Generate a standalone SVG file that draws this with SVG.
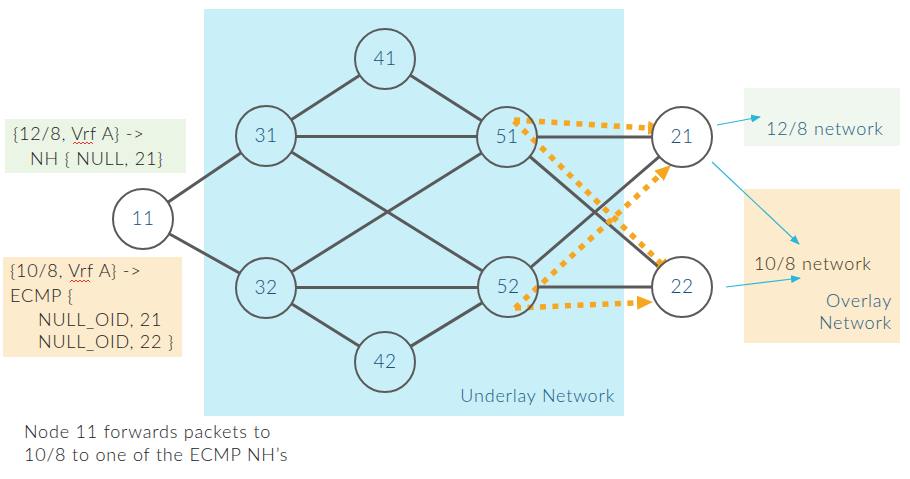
<svg xmlns="http://www.w3.org/2000/svg" width="910" height="479" viewBox="0 0 910 479">
<defs>
<style>
.t{font-family:Lato,"Liberation Sans",sans-serif;font-size:18px;font-weight:300;fill:#222;letter-spacing:0.8px}
.lbl{font-family:Lato,"Liberation Sans",sans-serif;font-size:19px;font-weight:300;fill:#174f78;text-anchor:middle;letter-spacing:0.5px}
.teal{fill:#1b5a80}
.node circle{stroke:#5a5a5a;stroke-width:2}
.edge line{stroke:#5a5a5a;stroke-width:3}
.flow line{stroke:#f7a71f;stroke-width:5.5;stroke-dasharray:6 6.5;fill:none}
.cy line{stroke:#2db6d9;stroke-width:1.2}
</style>
<marker id="oa" viewBox="0 0 16 14" refX="1" refY="7" markerWidth="16" markerHeight="14" markerUnits="userSpaceOnUse" orient="auto">
<path d="M0,0 L16,7 L0,14 z" fill="#f7a71f"/>
</marker>
<marker id="ca" viewBox="0 0 10 8" refX="9" refY="4" markerWidth="10" markerHeight="8" markerUnits="userSpaceOnUse" orient="auto">
<path d="M0,0 L10,4 L0,8 z" fill="#2db6d9"/>
</marker>
</defs>
<rect x="0" y="0" width="910" height="479" fill="#fff"/>
<rect id="underlay" x="204" y="9" width="420" height="407" fill="#c9eff9"/>
<text class="t teal" x="615" y="402" text-anchor="end">Underlay Network</text>
<g id="box-12-8-route">
<rect x="5" y="119" width="181" height="54" fill="#ebf5e5"/>
<text class="t" x="13" y="140">{12/8, Vrf A} -&gt;</text>
<text class="t" x="30" y="165">NH { NULL, 21}</text>
<path d="M73,144 l2,-2 l2,2 l2,-2 l2,2 l2,-2 l2,2 l2,-2 l2,2 l2,-2 l2,2" stroke="#e02020" stroke-width="0.9" fill="none"/>
</g>
<g id="box-10-8-route">
<rect x="3" y="257" width="179" height="100" fill="#fdebcd"/>
<text class="t" x="10" y="277">{10/8, Vrf A} -&gt;</text>
<text class="t" x="10" y="302">ECMP {</text>
<text class="t" x="38" y="326">NULL_OID, 21</text>
<text class="t" x="38" y="348">NULL_OID, 22 }</text>
<path d="M70,282 l2,-2 l2,2 l2,-2 l2,2 l2,-2 l2,2 l2,-2 l2,2 l2,-2 l2,2" stroke="#e02020" stroke-width="0.9" fill="none"/>
</g>
<g id="net-12-8">
<rect x="744" y="88" width="156" height="58" fill="#f0f7ee"/>
<text class="t teal" x="766" y="135">12/8 network</text>
</g>
<g id="overlay">
<rect x="744" y="189" width="156" height="154" fill="#fdebcd"/>
<text class="t" x="754" y="270" style="fill:#3b3222">10/8 network</text>
<text class="t teal" x="892" y="307" text-anchor="end">Overlay</text>
<text class="t teal" x="892" y="329" text-anchor="end">Network</text>
</g>
<text class="t" x="24" y="438">Node 11 forwards packets to</text>
<text class="t" x="24" y="461">10/8 to one of the ECMP NH’s</text>
<g id="connectors">
<g class="edge">
<line x1="167.9" y1="202.2" x2="241.1" y2="152.8"/>
<line x1="169.2" y1="233.7" x2="239.8" y2="273.3"/>
<line x1="291.2" y1="119.7" x2="359.8" y2="75.3"/>
<line x1="410.3" y1="75.2" x2="481.7" y2="120.8"/>
<line x1="296" y1="136.5" x2="477" y2="136.5"/>
<line x1="291.5" y1="151.9" x2="482.5" y2="271.1"/>
<line x1="291.4" y1="272.1" x2="481.6" y2="152.9"/>
<line x1="296" y1="287.5" x2="478" y2="287.5"/>
<line x1="291.5" y1="303.8" x2="359.5" y2="346.2"/>
<line x1="410.6" y1="346.4" x2="482.4" y2="302.6"/>
<line x1="537" y1="137" x2="652" y2="137"/>
<line x1="538" y1="287" x2="652" y2="287"/>
<line x1="529.8" y1="156.5" x2="659.2" y2="267.5"/>
<line x1="530.7" y1="267.4" x2="659.3" y2="156.6"/>
</g>
<g class="cy">
<line x1="717" y1="125" x2="760" y2="117" marker-end="url(#ca)"/>
<line x1="712" y1="162" x2="799" y2="244" marker-end="url(#ca)"/>
<line x1="726" y1="287" x2="800" y2="278" marker-end="url(#ca)"/>
</g>
<g class="flow">
<line x1="514" y1="120" x2="649" y2="128.1" marker-end="url(#oa)"/>
<line x1="514" y1="121" x2="661.2" y2="263.6" marker-end="url(#oa)"/>
<line x1="515" y1="308" x2="659.9" y2="175.1" marker-end="url(#oa)"/>
<line x1="515" y1="308" x2="638" y2="302.7" marker-end="url(#oa)"/>
</g>
</g>
<g id="n11" class="node"><circle cx="143" cy="219" r="30" fill="#fff"/><text class="lbl" x="143" y="225">11</text></g>
<g id="n31" class="node"><circle cx="266" cy="136" r="30" fill="none"/><text class="lbl" x="266" y="142">31</text></g>
<g id="n41" class="node"><circle cx="385" cy="59" r="30" fill="none"/><text class="lbl" x="385" y="65">41</text></g>
<g id="n51" class="node"><circle cx="507" cy="137" r="30" fill="none"/><text class="lbl" x="507" y="143">51</text></g>
<g id="n32" class="node"><circle cx="266" cy="288" r="30" fill="none"/><text class="lbl" x="266" y="294">32</text></g>
<g id="n42" class="node"><circle cx="385" cy="362" r="30" fill="none"/><text class="lbl" x="385" y="368">42</text></g>
<g id="n52" class="node"><circle cx="508" cy="287" r="30" fill="none"/><text class="lbl" x="508" y="293">52</text></g>
<g id="n21" class="node"><circle cx="682" cy="137" r="30" fill="#fff"/><text class="lbl" x="682" y="143">21</text></g>
<g id="n22" class="node"><circle cx="682" cy="287" r="30" fill="#fff"/><text class="lbl" x="682" y="293">22</text></g>
</svg>
